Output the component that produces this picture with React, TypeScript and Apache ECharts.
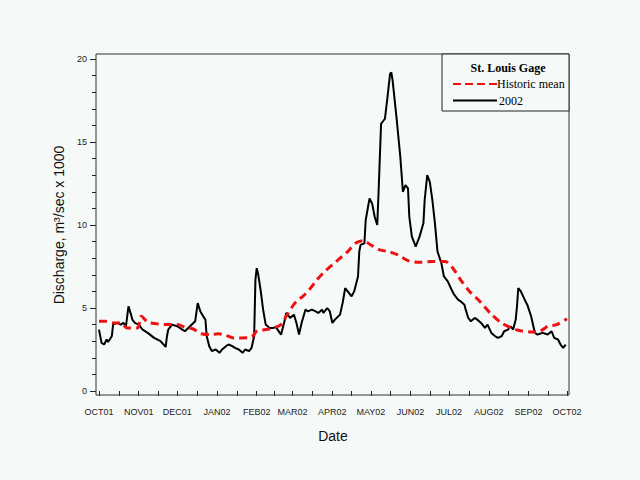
import React, { useEffect, useRef } from 'react';
import * as echarts from 'echarts';

const MONTH_LABELS = ['JAN', 'FEB', 'MAR', 'APR', 'MAY', 'JUN', 'JUL', 'AUG', 'SEP', 'OCT', 'NOV', 'DEC'];
const Y_MIN = 0;
const Y_MAX = 20;
const Y_STEP = 5;
const X_START = '2001-10-01';
const X_END = '2002-10-01';

const flowDates = [
  '2001-10-01', '2001-10-03', '2001-10-05', '2001-10-07', '2001-10-08', '2001-10-11', '2001-10-12', '2001-10-15',
  '2001-10-18', '2001-10-20', '2001-10-22', '2001-10-24', '2001-10-26', '2001-10-27', '2001-10-29', '2001-11-01',
  '2001-11-04', '2001-11-08', '2001-11-13', '2001-11-18', '2001-11-21', '2001-11-22', '2001-11-23', '2001-11-24',
  '2001-11-27', '2001-12-01', '2001-12-05', '2001-12-07', '2001-12-11', '2001-12-15', '2001-12-17', '2001-12-19',
  '2001-12-22', '2001-12-23', '2001-12-24', '2001-12-26', '2001-12-28', '2001-12-31', '2002-01-03', '2002-01-05',
  '2002-01-08', '2002-01-10', '2002-01-13', '2002-01-15', '2002-01-18', '2002-01-21', '2002-01-23', '2002-01-26',
  '2002-01-28', '2002-01-30', '2002-01-31', '2002-02-01', '2002-02-02', '2002-02-04', '2002-02-06', '2002-02-08',
  '2002-02-11', '2002-02-14', '2002-02-16', '2002-02-19', '2002-02-20', '2002-02-23', '2002-02-24', '2002-02-27',
  '2002-03-02', '2002-03-04', '2002-03-06', '2002-03-08', '2002-03-11', '2002-03-13', '2002-03-16', '2002-03-19',
  '2002-03-21', '2002-03-24', '2002-03-25', '2002-03-28', '2002-03-30', '2002-04-01', '2002-04-03', '2002-04-07',
  '2002-04-09', '2002-04-11', '2002-04-13', '2002-04-16', '2002-04-18', '2002-04-21', '2002-04-22', '2002-04-23',
  '2002-04-26', '2002-04-27', '2002-04-30', '2002-05-02', '2002-05-04', '2002-05-06', '2002-05-07', '2002-05-09',
  '2002-05-12', '2002-05-14', '2002-05-16', '2002-05-17', '2002-05-18', '2002-05-21', '2002-05-24', '2002-05-26',
  '2002-05-28', '2002-05-30', '2002-05-31', '2002-06-02', '2002-06-03', '2002-06-05', '2002-06-08', '2002-06-11',
  '2002-06-12', '2002-06-14', '2002-06-16', '2002-06-18', '2002-06-20', '2002-06-22', '2002-06-25', '2002-06-27',
  '2002-06-30', '2002-07-03', '2002-07-05', '2002-07-08', '2002-07-10', '2002-07-13', '2002-07-14', '2002-07-16',
  '2002-07-18', '2002-07-21', '2002-07-23', '2002-07-26', '2002-07-29', '2002-07-31', '2002-08-03', '2002-08-06',
  '2002-08-08', '2002-08-11', '2002-08-13', '2002-08-16', '2002-08-18', '2002-08-20', '2002-08-22', '2002-08-23',
  '2002-08-24', '2002-08-26', '2002-08-29', '2002-08-31', '2002-09-03', '2002-09-06', '2002-09-08', '2002-09-12',
  '2002-09-16', '2002-09-19', '2002-09-21', '2002-09-24', '2002-09-26', '2002-09-28', '2002-09-30',
];
const flowValues = [
  3.7, 2.9, 2.8, 3.1, 2.95, 3.3, 4.0, 4.1,
  4.0, 4.1, 3.9, 5.1, 4.6, 4.3, 4.1, 4.0,
  3.7, 3.5, 3.2, 3.0, 2.75, 2.65, 3.3, 3.7,
  4.0, 3.9, 3.7, 3.6, 3.9, 4.2, 5.3, 4.8,
  4.4, 4.3, 3.3, 2.7, 2.4, 2.5, 2.3, 2.5,
  2.7, 2.8, 2.7, 2.6, 2.5, 2.3, 2.5, 2.4,
  2.6, 3.3, 6.7, 7.4, 7.1, 6.1, 4.9, 4.0,
  3.8, 3.8, 3.85, 3.5, 3.4, 4.3, 4.7, 4.4,
  4.6, 4.1, 3.4, 4.1, 4.9, 4.8, 4.9, 4.8,
  4.7, 4.9, 4.7, 5.0, 4.8, 4.1, 4.3, 4.6,
  5.3, 6.2, 6.0, 5.7, 6.0, 6.9, 8.4, 8.8,
  8.9, 10.3, 11.6, 11.3, 10.5, 10.0, 11.9, 16.1,
  16.4, 17.7, 19.1, 19.2, 18.7, 16.5, 14.1, 12.0,
  12.4, 12.2, 10.5, 9.3, 9.1, 8.7, 9.3, 10.1,
  11.5, 13.0, 12.6, 11.5, 10.1, 8.4, 7.7, 6.9,
  6.6, 6.1, 5.8, 5.5, 5.4, 5.2, 4.9, 4.4,
  4.2, 4.4, 4.3, 4.1, 3.8, 4.0, 3.5, 3.3,
  3.2, 3.3, 3.6, 3.7, 3.9, 3.7, 4.3, 5.1,
  6.2, 6.0, 5.5, 5.2, 4.5, 3.5, 3.4, 3.5,
  3.4, 3.6, 3.2, 3.1, 2.8, 2.6, 2.8,
];

const meanDates = [
  '2001-10-01', '2001-10-06', '2001-10-13', '2001-10-18', '2001-10-23', '2001-10-31', '2001-11-03', '2001-11-08',
  '2001-11-15', '2001-11-22', '2001-12-01', '2001-12-07', '2001-12-13', '2001-12-20', '2001-12-27', '2002-01-02',
  '2002-01-08', '2002-01-14', '2002-01-20', '2002-01-28', '2002-02-01', '2002-02-08', '2002-02-14', '2002-02-20',
  '2002-02-24', '2002-02-28', '2002-03-04', '2002-03-09', '2002-03-14', '2002-03-20', '2002-03-26', '2002-04-01',
  '2002-04-07', '2002-04-13', '2002-04-19', '2002-04-25', '2002-05-01', '2002-05-08', '2002-05-15', '2002-05-22',
  '2002-05-30', '2002-06-08', '2002-06-18', '2002-06-28', '2002-07-04', '2002-07-10', '2002-07-17', '2002-07-25',
  '2002-08-02', '2002-08-11', '2002-08-22', '2002-09-04', '2002-09-10', '2002-09-16', '2002-09-23', '2002-10-01',
];
const meanValues = [
  4.2, 4.2, 4.1, 4.1, 3.8, 3.8, 4.5, 4.15,
  4.05, 4.0, 4.0, 3.85, 3.75, 3.45, 3.4, 3.45,
  3.35, 3.2, 3.2, 3.25, 3.6, 3.7, 3.8, 4.0,
  4.5, 5.0, 5.4, 5.7, 6.1, 6.7, 7.2, 7.6,
  8.0, 8.4, 8.9, 9.05, 8.8, 8.5, 8.4, 8.2,
  7.85, 7.75, 7.8, 7.8, 7.4, 6.7, 6.0, 5.4,
  4.7, 4.1, 3.7, 3.55, 3.6, 3.9, 4.0, 4.35,
];

const LEGEND_TITLE = 'St. Louis Gage';
const SERIES_NAMES = ['Historic mean', '2002'];
const BG = '#f5f9f7';
const RED = '#ee1111';

export default function App() {
  const ref = useRef<HTMLDivElement>(null);

  useEffect(() => {
    if (!ref.current) return;
    const chart = echarts.init(ref.current, undefined, { renderer: 'svg' });
    const flowData = flowDates.map((d, i) => [d, flowValues[i]]);
    const meanData = meanDates.map((d, i) => [d, meanValues[i]]);
    const sans = 'Liberation Sans, Arial, sans-serif';
    const serif = 'Liberation Serif, Times New Roman, serif';
    const DAY = 86400000;

    chart.setOption({
      animation: false,
      backgroundColor: BG,
      grid: { left: 99, right: 73, top: 59, bottom: 89 },
      xAxis: {
        type: 'time',
        min: X_START,
        max: X_END,
        offset: 4,
        minInterval: 28 * DAY,
        maxInterval: 31 * DAY,
        name: 'Date',
        nameLocation: 'middle',
        nameGap: 34,
        nameTextStyle: { fontFamily: sans, fontSize: 14, color: '#111' },
        axisLine: { show: false },
        axisTick: { show: true, length: 5, lineStyle: { color: '#222' } },
        minorTick: { show: true, splitNumber: 2, length: 5, lineStyle: { color: '#222' } },
        splitLine: { show: false },
        minorSplitLine: { show: false },
        axisLabel: {
          margin: 12,
          fontFamily: sans,
          fontSize: 9,
          color: '#222',
          hideOverlap: false,
          showMinLabel: true,
          showMaxLabel: true,
          formatter: (val: number) => {
            const d = new Date(val);
            return MONTH_LABELS[d.getMonth()] + String(d.getFullYear()).slice(2);
          },
        },
      },
      yAxis: {
        type: 'value',
        min: Y_MIN,
        max: Y_MAX,
        interval: Y_STEP,
        offset: 3,
        name: 'Discharge, m³/sec x 1000',
        nameLocation: 'middle',
        nameGap: 30,
        nameRotate: 90,
        nameTextStyle: { fontFamily: sans, fontSize: 14, color: '#111' },
        axisLine: { show: false },
        axisTick: { show: true, length: 6, lineStyle: { color: '#222' } },
        minorTick: { show: true, splitNumber: 5, length: 4, lineStyle: { color: '#222' } },
        splitLine: { show: false },
        minorSplitLine: { show: false },
        axisLabel: { margin: 9, fontFamily: sans, fontSize: 9, color: '#222' },
      },
      series: [
        {
          name: SERIES_NAMES[1],
          type: 'line',
          data: flowData,
          symbol: 'none',
          lineStyle: { color: '#000', width: 2 },
          z: 2,
        },
        {
          name: SERIES_NAMES[0],
          type: 'line',
          data: meanData,
          symbol: 'none',
          smooth: 0.3,
          lineStyle: { color: RED, width: 3, type: [8, 5] },
          z: 3,
        },
      ],
      graphic: [
        {
          type: 'rect',
          shape: { x: 96, y: 54, width: 473, height: 341 },
          style: { fill: 'none', stroke: '#333', lineWidth: 1 },
          z: 10,
          silent: true,
        },
        {
          type: 'rect',
          shape: { x: 442, y: 54, width: 127, height: 57 },
          style: { fill: BG, stroke: '#222', lineWidth: 1 },
          z: 20,
          silent: true,
        },
        {
          type: 'text',
          x: 508,
          y: 68,
          style: {
            text: LEGEND_TITLE,
            fontFamily: serif,
            fontWeight: 'bold',
            fontSize: 12,
            fill: '#000',
            align: 'center',
            verticalAlign: 'middle',
          },
          z: 21,
        },
        {
          type: 'line',
          shape: { x1: 453, y1: 84, x2: 497, y2: 84 },
          style: { stroke: RED, lineWidth: 2, lineDash: [8, 4] },
          z: 21,
        },
        {
          type: 'text',
          x: 497,
          y: 84,
          style: {
            text: SERIES_NAMES[0],
            fontFamily: serif,
            fontSize: 12,
            fill: '#000',
            align: 'left',
            verticalAlign: 'middle',
          },
          z: 21,
        },
        {
          type: 'line',
          shape: { x1: 453, y1: 100.5, x2: 497, y2: 100.5 },
          style: { stroke: '#000', lineWidth: 2 },
          z: 21,
        },
        {
          type: 'text',
          x: 499,
          y: 100.5,
          style: {
            text: SERIES_NAMES[1],
            fontFamily: serif,
            fontSize: 12,
            fill: '#000',
            align: 'left',
            verticalAlign: 'middle',
          },
          z: 21,
        },
      ],
    });

    return () => {
      chart.dispose();
    };
  }, []);

  return (
    <div
      ref={ref}
      style={{ position: 'fixed', left: 0, top: 0, width: 640, height: 480 }}
    />
  );
}
